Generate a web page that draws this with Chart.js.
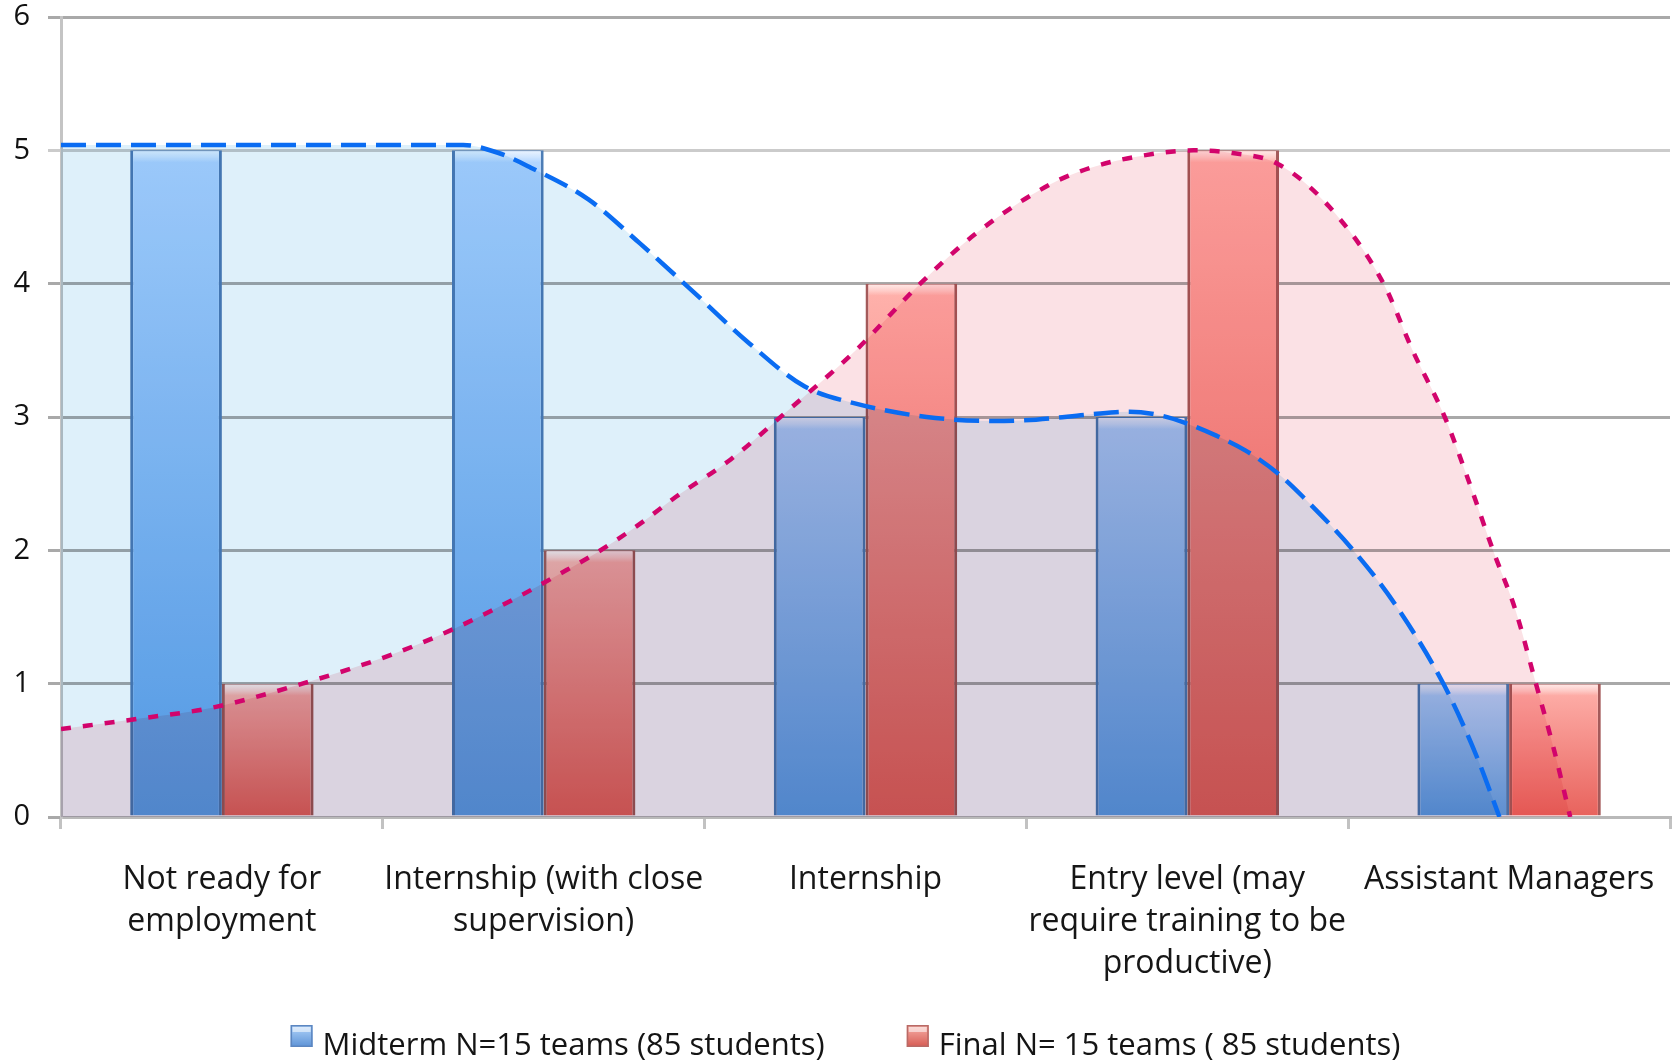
<!DOCTYPE html>
<html>
<head>
<meta charset="utf-8">
<title>Midterm vs Final readiness</title>
<script src="https://cdn.jsdelivr.net/npm/chart.js@4.4.1/dist/chart.umd.min.js"></script>
<style>
  html, body { margin: 0; padding: 0; background: #ffffff; }
  #stage { position: relative; width: 1675px; height: 1063px; }
  #stage canvas { position: absolute; left: 0; top: 0; display: block; }
  #areas { mix-blend-mode: multiply; }
</style>
</head>
<body>
<div id="stage">
  <canvas id="bars" width="1675" height="1063"></canvas>
  <canvas id="areas" width="1675" height="1063"></canvas>
  <canvas id="trends" width="1675" height="1063"></canvas>
</div>
<script>
// Employment readiness categories (multi-line axis labels)
const categories = [
  ['Not ready for', 'employment'],
  ['Internship (with close', 'supervision)'],
  ['Internship'],
  ['Entry level (may', 'require training to be', 'productive)'],
  ['Assistant Managers']
];

const yTicks = [0, 1, 2, 3, 4, 5, 6];

// Number of teams per category
const midtermValues = [5, 5, 3, 3, 1];
const finalValues = [1, 2, 4, 5, 1];

const midtermLabel = 'Midterm N=15 teams (85 students)';
const finalLabel = 'Final N= 15 teams ( 85 students)';

// Trend curves; x is measured in category widths from the left axis
const midtermTrendX = [0, 0.5, 1.0, 1.25, 1.36, 1.46, 1.64, 1.80, 1.96, 2.14, 2.31, 2.47, 2.69, 2.90, 3.03, 3.20, 3.32, 3.42, 3.50, 3.59, 3.68, 3.78, 3.86, 4.03, 4.15, 4.30, 4.40, 4.47];
const midtermTrendY = [5.04, 5.04, 5.04, 5.04, 4.98, 4.87, 4.63, 4.30, 3.95, 3.55, 3.23, 3.10, 3.00, 2.97, 2.98, 3.02, 3.04, 3.01, 2.95, 2.86, 2.75, 2.58, 2.40, 1.96, 1.58, 0.98, 0.45, 0.00];

const finalTrendX = [0, 0.25, 0.47, 0.75, 1.03, 1.22, 1.42, 1.54, 1.67, 1.80, 1.91, 2.08, 2.25, 2.47, 2.67, 2.84, 3.07, 3.20, 3.36, 3.52, 3.64, 3.78, 3.94, 4.11, 4.20, 4.30, 4.37, 4.45, 4.52, 4.58, 4.64, 4.69];
const finalTrendY = [0.66, 0.74, 0.82, 1.00, 1.22, 1.41, 1.65, 1.81, 1.99, 2.20, 2.40, 2.68, 3.03, 3.50, 4.00, 4.37, 4.74, 4.87, 4.96, 5.00, 4.98, 4.90, 4.58, 4.00, 3.50, 3.00, 2.55, 2.00, 1.55, 1.03, 0.50, 0.00];

const toPoints = (xs, ys) => xs.map((x, i) => ({ x: x, y: ys[i] }));

const W = 1675, H = 1063;
const FONT = "'Open Sans', 'DejaVu Sans', sans-serif";

// Vertical gradient for each bar, from its top down to the baseline
function barGradient(top, bottom) {
  return (c) => {
    const chart = c.chart;
    if (!chart.chartArea || c.type !== 'data') return bottom;
    const y = chart.scales.y;
    const y0 = y.getPixelForValue(0);
    const y1 = y.getPixelForValue(c.raw);
    if (!isFinite(y0) || !isFinite(y1) || y0 === y1) return bottom;
    const g = chart.ctx.createLinearGradient(0, y1, 0, y0);
    g.addColorStop(0, top);
    g.addColorStop(1, bottom);
    return g;
  };
}

// White page behind the bar chart
const whiteBackground = {
  id: 'whiteBackground',
  beforeDraw(chart) {
    const { ctx } = chart;
    ctx.save();
    ctx.fillStyle = '#ffffff';
    ctx.fillRect(0, 0, chart.width, chart.height);
    ctx.restore();
  }
};

// Glossy strip along the top of each bar
const barGloss = {
  id: 'barGloss',
  afterDatasetDraw(chart, args) {
    const { ctx } = chart;
    ctx.save();
    args.meta.data.forEach((el) => {
      const p = el.getProps(['x', 'y', 'width', 'base'], true);
      const left = p.x - p.width / 2 + 3;
      const w = p.width - 6;
      const h = Math.min(12, Math.abs(p.base - p.y));
      const g = ctx.createLinearGradient(0, p.y, 0, p.y + h);
      g.addColorStop(0, 'rgba(255,255,255,0.75)');
      g.addColorStop(0.6, 'rgba(255,255,255,0.35)');
      g.addColorStop(1, 'rgba(255,255,255,0)');
      ctx.fillStyle = g;
      ctx.fillRect(left, p.y + 1, w, h);
    });
    ctx.restore();
  }
};

// Legend row under the axis labels
const bottomLegend = {
  id: 'bottomLegend',
  afterDraw(chart) {
    const { ctx } = chart;
    const items = chart.data.datasets;
    const box = 22, gap = 10, spacing = 82;
    ctx.save();
    ctx.font = '31px ' + FONT;
    const widths = items.map((d) => ctx.measureText(d.label).width);
    let total = 0;
    widths.forEach((w, i) => { total += box + gap + w + (i ? spacing : 0); });
    let x = chart.width / 2 + 8 - total / 2;
    const baseline = chart.scales.x.bottom + 73;
    const boxTop = baseline - 30;
    items.forEach((d, i) => {
      const g = ctx.createLinearGradient(0, boxTop, 0, boxTop + box);
      g.addColorStop(0, d.legendSwatch[0]);
      g.addColorStop(1, d.legendSwatch[1]);
      ctx.fillStyle = g;
      ctx.fillRect(x, boxTop, box, box);
      ctx.strokeStyle = d.legendSwatch[2];
      ctx.lineWidth = 1.5;
      ctx.strokeRect(x + 0.75, boxTop + 0.75, box - 1.5, box - 1.5);
      ctx.fillStyle = 'rgba(255,255,255,0.55)';
      ctx.fillRect(x + 2, boxTop + 2, box - 4, 5);
      ctx.fillStyle = '#141414';
      ctx.textBaseline = 'alphabetic';
      ctx.textAlign = 'left';
      ctx.fillText(d.label, x + box + gap, baseline);
      x += box + gap + widths[i] + spacing;
    });
    ctx.restore();
  }
};

// Bars, axes and legend
const barChart = new Chart(document.getElementById('bars'), {
  type: 'bar',
  data: {
    labels: categories,
    datasets: [
      {
        label: midtermLabel,
        data: midtermValues,
        legendSwatch: ['#b4d6fb', '#5c92d6', '#5c86c0'],
        backgroundColor: barGradient('#b3d6ff', '#5ea2e8'),
        borderColor: '#4d7db6'
      },
      {
        label: finalLabel,
        data: finalValues,
        legendSwatch: ['#f8b2aa', '#d65a52', '#b86a66'],
        backgroundColor: barGradient('#ffb2ac', '#e8625c'),
        borderColor: '#a45a5a'
      }
    ]
  },
  options: {
    responsive: false,
    animation: false,
    devicePixelRatio: 1,
    datasets: {
      bar: {
        categoryPercentage: 0.57,
        barPercentage: 1.0,
        borderWidth: { left: 3, right: 3, top: 1, bottom: 0 },
        borderSkipped: false
      }
    },
    layout: { padding: { top: 17, right: 5, bottom: 81, left: 0 } },
    plugins: {
      legend: { display: false },
      tooltip: { enabled: false }
    },
    scales: {
      x: {
        type: 'category',
        offset: true,
        grid: {
          offset: true,
          drawOnChartArea: false,
          drawTicks: true,
          tickLength: 12,
          color: '#c2c2c2',
          lineWidth: 3
        },
        border: { display: true, color: '#b9b9b9', width: 3 },
        ticks: {
          color: '#161616',
          font: { family: FONT, size: 32, lineHeight: 1.31 },
          padding: 30,
          maxRotation: 0,
          minRotation: 0,
          autoSkip: false
        },
        afterFit(scale) {
          scale.height = 165;
          scale.paddingLeft = 0;
          scale.paddingRight = 0;
        }
      },
      y: {
        min: 0,
        max: 6,
        afterBuildTicks(scale) { scale.ticks = yTicks.map((v) => ({ value: v })); },
        ticks: {
          color: '#111111',
          font: { family: FONT, size: 29, lineHeight: 1 },
          padding: 18
        },
        grid: {
          color: (c) => (c.tick && c.tick.value === 5 ? '#cbcbcb' : '#a9a9a9'),
          lineWidth: 3,
          tickLength: 13,
          drawTicks: true
        },
        border: { display: true, color: '#c4c4c4', width: 3 },
        afterFit(scale) {
          scale.width = 61;
          scale.paddingTop = 0;
          scale.paddingBottom = 0;
        }
      }
    }
  },
  plugins: [whiteBackground, barGloss, bottomLegend]
});

// The curve layers share the bar chart's plot area
const area = barChart.chartArea;
const overlayLayout = {
  padding: { left: area.left, top: area.top, right: W - area.right, bottom: H - area.bottom }
};
const overlayScales = {
  x: { type: 'linear', min: 0, max: categories.length, display: false },
  y: { type: 'linear', min: 0, max: 6, display: false }
};
const overlayOptions = {
  responsive: false,
  animation: false,
  devicePixelRatio: 1,
  layout: overlayLayout,
  scales: overlayScales,
  plugins: { legend: { display: false }, tooltip: { enabled: false } }
};

// Shaded areas under both curves; overlapping regions multiply
const multiplyAll = {
  id: 'multiplyAll',
  beforeDraw(chart) { chart.ctx.globalCompositeOperation = 'multiply'; },
  afterDraw(chart) { chart.ctx.globalCompositeOperation = 'source-over'; }
};

new Chart(document.getElementById('areas'), {
  type: 'line',
  data: {
    datasets: [
      {
        label: 'Midterm trend area',
        data: toPoints(midtermTrendX, midtermTrendY),
        fill: 'origin',
        backgroundColor: '#def0fa',
        borderWidth: 0,
        pointRadius: 0,
        cubicInterpolationMode: 'monotone'
      },
      {
        label: 'Final trend area',
        data: toPoints(finalTrendX, finalTrendY),
        fill: 'origin',
        backgroundColor: '#fbe1e5',
        borderWidth: 0,
        pointRadius: 0,
        cubicInterpolationMode: 'monotone'
      }
    ]
  },
  options: overlayOptions,
  plugins: [multiplyAll]
});

// Dashed trend lines on top
new Chart(document.getElementById('trends'), {
  type: 'line',
  data: {
    datasets: [
      {
        label: 'Midterm trend',
        data: toPoints(midtermTrendX, midtermTrendY),
        fill: false,
        borderColor: '#0a6cf2',
        borderWidth: 4.5,
        borderDash: [25, 10],
        borderCapStyle: 'butt',
        pointRadius: 0,
        cubicInterpolationMode: 'monotone'
      },
      {
        label: 'Final trend',
        data: toPoints(finalTrendX, finalTrendY),
        fill: false,
        borderColor: '#d2046c',
        borderWidth: 4.5,
        borderDash: [10, 12],
        borderCapStyle: 'butt',
        pointRadius: 0,
        cubicInterpolationMode: 'monotone'
      }
    ]
  },
  options: overlayOptions
});
</script>
</body>
</html>
